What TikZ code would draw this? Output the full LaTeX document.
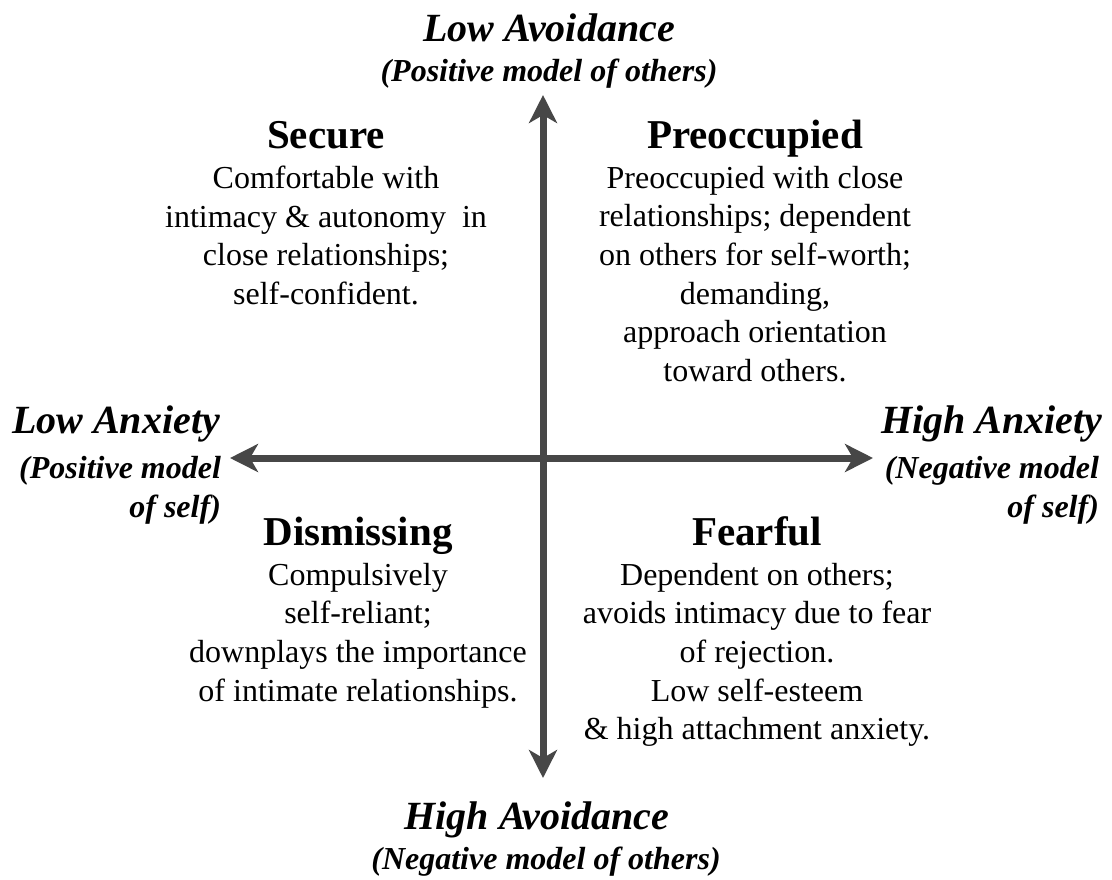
\documentclass[tikz,border=0pt]{standalone}
\usepackage{fontspec}
\setmainfont{Liberation Serif}
\usetikzlibrary{arrows.meta}

\begin{document}
\begin{tikzpicture}[x=0.5pt, y=-0.5pt,
    axis/.style={line width=3.5pt, draw=black!72, {Stealth[length=14pt, width=14pt, inset=4pt]}-{Stealth[length=14pt, width=14pt, inset=4pt]}},
    pole/.style={font=\fontsize{20}{22}\selectfont\bfseries\itshape},
    polesub/.style={font=\fontsize{16}{19.5}\selectfont\bfseries\itshape},
    style/.style={font=\fontsize{20.5}{22}\selectfont\bfseries, anchor=base},
    desc/.style={font=\fontsize{16}{19.3}\selectfont, align=center, anchor=north}]
    \useasboundingbox (0,0) rectangle (1112,879);

    % axes
    \coordinate (top) at (543,95);
    \coordinate (bottom) at (543,778);
    \coordinate (left) at (230,458);
    \coordinate (right) at (873,458);
    \draw[axis] (top) -- (bottom);
    \draw[axis] (left) -- (right);

    % poles
    \node[pole] (lowavoid) at (549,28) {Low Avoidance};
    \node[polesub] (lowavoidsub) at (549,74) {(Positive model of others)};
    \node[pole] (highavoid) at (537,820) {High Avoidance};
    \node[polesub] (highavoidsub) at (546,862) {(Negative model of others)};
    \node[pole] (lowanx) at (116,424) {Low Anxiety};
    \node[polesub, align=right, anchor=north east] (lowanxsub) at (228,449) {(Positive model\\of self)};
    \node[pole] (highanx) at (992,424) {High Anxiety};
    \node[polesub, align=right, anchor=north east] (highanxsub) at (1106,449) {(Negative model\\of self)};

    % quadrants
    \node[style] (secure) at (326,148) {Secure};
    \node[desc] (securetxt) at (326,159) {Comfortable with\\intimacy \& autonomy\ \ in\\close relationships;\\self-confident.};
    \node[style] (preocc) at (755,148) {Preoccupied};
    \node[desc] (preocctxt) at (755,159) {Preoccupied with close\\relationships; dependent\\on others for self-worth;\\demanding,\\approach orientation\\toward others.};
    \node[style] (dismiss) at (358,545) {Dismissing};
    \node[desc] (dismisstxt) at (358,556) {Compulsively\\self-reliant;\\downplays the importance\\of intimate relationships.};
    \node[style] (fearful) at (757,545) {Fearful};
    \node[desc] (fearfultxt) at (757,556) {Dependent on others;\\avoids intimacy due to fear\\of rejection.\\Low self-esteem\\\& high attachment anxiety.};
\end{tikzpicture}
\end{document}
